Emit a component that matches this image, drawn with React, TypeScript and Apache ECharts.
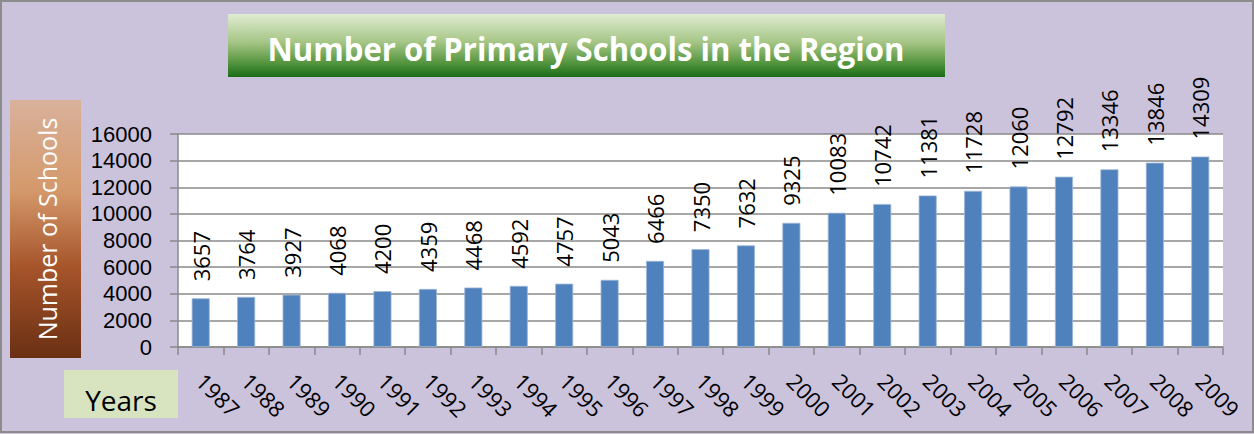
import React, { useEffect, useRef } from "react";
import * as echarts from "echarts";

const years = ["1987","1988","1989","1990","1991","1992","1993","1994","1995","1996","1997","1998","1999","2000","2001","2002","2003","2004","2005","2006","2007","2008","2009"];
const schools = [3657,3764,3927,4068,4200,4359,4468,4592,4757,5043,6466,7350,7632,9325,10083,10742,11381,11728,12060,12792,13346,13846,14309];
const yMin = 0;
const yMax = 16000;
const yStep = 2000;

const titleText = "Number of Primary Schools in the Region";
const yName = "Number of Schools";
const xName = "Years";

export default function App() {
  const ref = useRef<HTMLDivElement>(null);
  useEffect(() => {
    document.body.style.margin = "0";
    if (!ref.current) return;
    const chart = echarts.init(ref.current, undefined, { renderer: "svg" });
    let titleScale = 1;
    try {
      const c = document.createElement("canvas").getContext("2d");
      if (c) {
        c.font = 'bold 33px "Open Sans"';
        const w = c.measureText(titleText).width;
        if (w > 0) titleScale = 637 / w;
      }
    } catch (e) {}
    const gray = "#8a8a8a";
    const font = "Open Sans";
    chart.setOption({
      animation: false,
      backgroundColor: "#CBC2DB",
      grid: { left: 178, right: 31, top: 134, bottom: 87, containLabel: false },
      xAxis: {
        type: "category",
        data: years,
        axisLine: { show: true, lineStyle: { color: gray, width: 1.5 } },
        axisTick: { show: true, alignWithLabel: false, length: 8, lineStyle: { color: gray, width: 1.5 } },
        axisLabel: { rotate: -45, margin: 30, fontSize: 22, fontFamily: font, color: "#000", interval: 0 },
        splitLine: { show: false },
      },
      yAxis: {
        type: "value",
        min: yMin,
        max: yMax,
        interval: yStep,
        axisLine: { show: true, lineStyle: { color: gray, width: 1.5 } },
        axisTick: { show: true, length: 8, lineStyle: { color: gray, width: 1.5 } },
        axisLabel: {
          margin: 26,
          fontSize: 22,
          lineHeight: 22,
          fontFamily: "Liberation Sans",
          color: "#000",
          formatter: (v: number) => String(v),
        },
        splitLine: { show: true, lineStyle: { color: gray, width: 1.5 } },
      },
      series: [
        {
          type: "bar",
          data: schools,
          barWidth: 18,
          itemStyle: { color: "#4F81BD", borderColor: "#9DB6D8", borderWidth: 0.8 },
          label: {
            show: true,
            position: "top",
            rotate: 90,
            align: "left",
            verticalAlign: "middle",
            distance: 17,
            fontSize: 22,
            fontFamily: font,
            color: "#000",
          },
        },
      ],
      graphic: [
        {
          type: "rect",
          left: 178,
          top: 134,
          shape: { width: 1045, height: 213 },
          style: { fill: "#FFFFFF" },
          z: -10,
          silent: true,
        },
        {
          type: "rect",
          shape: { x: 1, y: 1, width: 1252, height: 431 },
          style: { fill: "none", stroke: "#8c8c8c", lineWidth: 2 },
          silent: true,
          z: 10,
        },
        {
          type: "rect",
          shape: { x: 228, y: 14, width: 717, height: 63 },
          style: {
            fill: new echarts.graphic.LinearGradient(0, 0, 0, 1, [
              { offset: 0, color: "#DFECD2" },
              { offset: 0.45, color: "#A5C585" },
              { offset: 0.75, color: "#5B9944" },
              { offset: 1, color: "#1B6D16" },
            ]),
          },
          silent: true,
        },
        {
          type: "text",
          x: 586,
          y: 48,
          scaleX: titleScale,
          style: {
            text: titleText,
            fill: "#FFFFFF",
            font: 'bold 33px "Open Sans"',
            align: "center",
            verticalAlign: "middle",
          },
          silent: true,
        },
        {
          type: "rect",
          shape: { x: 10, y: 100, width: 71, height: 258 },
          style: {
            fill: new echarts.graphic.LinearGradient(0, 0, 0, 1, [
              { offset: 0, color: "#D9B19B" },
              { offset: 0.35, color: "#D4996B" },
              { offset: 0.65, color: "#A6542A" },
              { offset: 1, color: "#6A3013" },
            ]),
          },
          silent: true,
        },
        {
          type: "text",
          x: 47,
          y: 229,
          rotation: Math.PI / 2,
          style: {
            text: yName,
            fill: "#FFFFFF",
            font: '25px "Open Sans"',
            align: "center",
            verticalAlign: "middle",
          },
          silent: true,
        },
        {
          type: "rect",
          shape: { x: 64, y: 370, width: 114, height: 48 },
          style: { fill: "#D8E4C0" },
          silent: true,
        },
        {
          type: "text",
          x: 121,
          y: 400,
          style: {
            text: xName,
            fill: "#000000",
            font: '28px "Open Sans"',
            align: "center",
            verticalAlign: "middle",
          },
          silent: true,
        },
      ],
    });
    return () => chart.dispose();
  }, []);
  return <div ref={ref} style={{ width: 1254, height: 434 }} />;
}
